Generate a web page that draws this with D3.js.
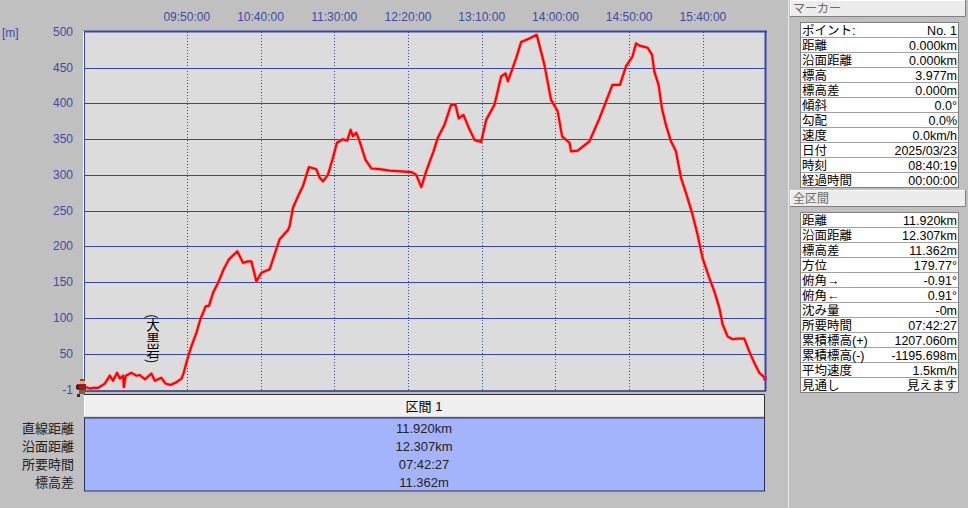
<!DOCTYPE html>
<html lang='ja'>
<head>
<meta charset='utf-8'>
<title>標高グラフ</title>
<script src='https://cdnjs.cloudflare.com/ajax/libs/d3/7.8.5/d3.min.js'></script>
<style>
body {
   margin:0;
   overflow:hidden;
   background:#c0c0c0;
}
text {
   font-family:'Liberation Sans', 'Noto Sans CJK JP', sans-serif;
}
</style>
</head>
<body>
<script>
// elapsed minutes from 08:40:19 and elevation [m]
var elapsedMin = [0, 3.9, 6.5, 9.6, 14.1, 17.5, 19.7, 22.4, 24.3, 26.5, 27.0, 28.3, 32.2, 35.6, 37.8, 41.4, 45.7, 48.0, 52.5, 55.3,
   58.6, 62.7, 66.1, 67.6, 69.8, 72.8, 76.2, 78.9, 82.5, 84.8, 87.5, 90.9, 94.7, 98.3, 104.0, 107.8, 111.2, 113.5, 116.9, 120.3,
   125.9, 130.4, 132.7, 138.3, 139.4, 141.7, 145.1, 148.4, 152.5, 157.5, 159.8, 162.0, 165.4, 168.8, 171.5, 175.5, 178.5, 180.8, 182.3, 184.6,
   186.9, 190.9, 194.8, 200.4, 207.2, 215.1, 221.9, 225.3, 228.7, 232.0, 237.0, 239.9, 244.4, 248.9, 251.9, 254.1, 257.3, 260.9, 264.8, 269.3,
   272.7, 278.3, 282.9, 285.8, 287.4, 293.0, 296.4, 302.0, 307.0, 312.2, 316.7, 321.2, 324.2, 329.2, 330.3, 334.8, 342.7, 349.5, 354.0, 358.3,
   363.4, 367.5, 372.0, 374.3, 376.6, 382.2, 385.2, 386.7, 389.6, 391.9, 394.6, 398.0, 401.4, 404.8, 408.6, 412.7, 416.1, 419.4, 424.0, 427.4,
   430.8, 433.0, 436.4, 439.8, 443.2, 447.7, 451.1, 454.5, 457.9, 461.2, 462.45];
var elevation = [4, 1, 2, 2, 8, 19, 12, 23, 15, 19, 3, 19, 23, 19, 20, 14, 22, 12, 16, 8,
   6, 10, 15, 23, 40, 60, 79, 98, 116, 117, 135, 149, 168, 182, 193, 177, 179, 179, 151, 163,
   168, 196, 210, 223, 228, 254, 270, 284, 311, 308, 296, 291, 300, 324, 345, 350, 348, 363, 354, 359,
   347, 321, 309, 308, 306, 305, 304, 300, 283, 305, 333, 352, 370, 398, 398, 379, 384, 366, 349, 346,
   377, 398, 438, 442, 431, 463, 486, 491, 496, 454, 405, 389, 354, 345, 333, 334, 347, 379, 403, 426,
   426, 452, 466, 484, 481, 478, 468, 445, 426, 393, 370, 347, 333, 296, 272, 244, 216, 184, 156, 137,
   114, 91, 74, 70, 71, 71, 53, 37, 23, 17, 15.3];

var timeTicks = ['09:50:00', '10:40:00', '11:30:00', '12:20:00', '13:10:00', '14:00:00', '14:50:00', '15:40:00'];
var elevTicks = [500, 450, 400, 350, 300, 250, 200, 150, 100, 50, -1];

var landmark = '(大黒岩)';

var rowLabels = ['直線距離', '沿面距離', '所要時間', '標高差'];
var sectionValues = ['11.920km', '12.307km', '07:42:27', '11.362m'];

var markerKeys = ['ポイント:', '距離', '沿面距離', '標高', '標高差', '傾斜', '勾配', '速度', '日付', '時刻', '経過時間'];
var markerVals = ['No. 1', '0.000km', '0.000km', '3.977m', '0.000m', '0.0°', '0.0%', '0.0km/h', '2025/03/23', '08:40:19', '00:00:00'];
var totalKeys = ['距離', '沿面距離', '標高差', '方位', '俯角→', '俯角←', '沈み量', '所要時間', '累積標高(+)', '累積標高(-)', '平均速度', '見通し'];
var totalVals = ['11.920km', '12.307km', '11.362m', '179.77°', '-0.91°', '0.91°', '-0m', '07:42:27', '1207.060m', '-1195.698m', '1.5km/h', '見えます'];

var startTime = new Date(2025, 2, 23, 8, 40, 19);
var endTime = new Date(startTime.getTime() + (7 * 3600 + 42 * 60 + 27) * 1000);
var parseClock = d3.timeParse('%H:%M:%S');
function onDay(s) {
   var t = parseClock(s);
   return new Date(2025, 2, 23, t.getHours(), t.getMinutes(), t.getSeconds());
}

var plotL = 84, plotR = 766, plotT = 32, plotB = 390;
var blue = '#3545ad';
var labelBlue = '#3d4ba6';

var x = d3.scaleTime().domain([startTime, endTime]).range([plotL, plotR]);
var y = d3.scaleLinear().domain([-1, 500]).range([plotB, plotT]);

var svg = d3.select('body').append('svg')
            .attr('width', 968).attr('height', 508);

// plot background
svg.append('rect')
   .attr('x', plotL).attr('y', plotT - 1).attr('width', plotR - plotL).attr('height', plotB - plotT + 2)
   .style('fill', '#dcdcdc');

// horizontal grid
svg.append('g').selectAll('line')
   .data(elevTicks.filter(function(d){return d > 0 && d < 500;}))
   .enter().append('line')
   .attr('x1', plotL).attr('x2', plotR)
   .attr('y1', function(d){return Math.round(y(d)) + 0.5;})
   .attr('y2', function(d){return Math.round(y(d)) + 0.5;})
   .style('stroke', blue).style('stroke-width', 1.2);

// vertical dotted grid
svg.append('g').selectAll('line')
   .data(timeTicks)
   .enter().append('line')
   .attr('x1', function(d){return Math.round(x(onDay(d))) + 0.5;})
   .attr('x2', function(d){return Math.round(x(onDay(d))) + 0.5;})
   .attr('y1', plotT).attr('y2', plotB)
   .style('stroke', blue).style('stroke-width', 1).style('stroke-dasharray', '1,2');

// frame
svg.append('line').attr('x1', plotL - 1).attr('x2', plotR + 1).attr('y1', plotT - 0.5).attr('y2', plotT - 0.5)
   .style('stroke', blue).style('stroke-width', 2);
svg.append('line').attr('x1', plotL - 0.5).attr('x2', plotL - 0.5).attr('y1', plotT - 1).attr('y2', plotB + 1)
   .style('stroke', '#ffffff').style('stroke-width', 1);
svg.append('line').attr('x1', plotL + 0.5).attr('x2', plotL + 0.5).attr('y1', plotT - 1).attr('y2', plotB + 1)
   .style('stroke', blue).style('stroke-width', 1);
svg.append('line').attr('x1', plotR - 0.5).attr('x2', plotR - 0.5).attr('y1', plotT - 1).attr('y2', plotB + 1)
   .style('stroke', blue).style('stroke-width', 2);
svg.append('line').attr('x1', plotL).attr('x2', plotR).attr('y1', plotB + 1).attr('y2', plotB + 1)
   .style('stroke', '#2a3580').style('stroke-width', 1.5);

// axis labels
svg.append('g').selectAll('text')
   .data(elevTicks)
   .enter().append('text')
   .attr('x', 73).attr('y', function(d){return y(d) + 4;})
   .attr('text-anchor', 'end')
   .style('font-size', '12px').style('fill', labelBlue)
   .text(function(d){return d;});
svg.append('text').attr('x', 2).attr('y', 37)
   .style('font-size', '12px').style('fill', labelBlue).text('[m]');
svg.append('g').selectAll('text')
   .data(timeTicks)
   .enter().append('text')
   .attr('x', function(d){return x(onDay(d));}).attr('y', 21)
   .attr('text-anchor', 'middle')
   .style('font-size', '12px').style('fill', labelBlue)
   .text(function(d){return d;});

// profile
var profile = elapsedMin.map(function(m, i){return {t: new Date(startTime.getTime() + m * 60000), e: elevation[i]};});
var line = d3.line()
   .x(function(d){return x(d.t);})
   .y(function(d){return y(d.e);});
svg.append('path').datum(profile).attr('d', line)
   .style('fill', 'none').style('stroke', '#ff8080').style('stroke-width', 4).style('opacity', 0.45)
   .style('stroke-linejoin', 'round');
svg.append('path').datum(profile).attr('d', line)
   .style('fill', 'none').style('stroke', '#ff0000').style('stroke-width', 2.2)
   .style('stroke-linejoin', 'round');

// end point
var last = profile[profile.length - 1];
svg.append('rect').attr('x', x(last.t) - 3).attr('y', y(last.e) - 2).attr('width', 4).attr('height', 4)
   .style('fill', '#c81d6e');

// landmark label, vertical writing
svg.append('text')
   .attr('x', 153).attr('y', 314)
   .style('writing-mode', 'vertical-rl')
   .style('font-family', "'Noto Sans CJK JP', sans-serif")
   .style('font-size', '13.5px').style('fill', '#000')
   .text(landmark);

// hiker marker at start
var hx = 76, hy = 379;
var hiker = svg.append('g').attr('transform', 'translate(' + hx + ',' + hy + ')');
hiker.append('rect').attr('x', 4).attr('y', 0).attr('width', 5).attr('height', 2).style('fill', '#8a4a20');
hiker.append('rect').attr('x', 4).attr('y', 2).attr('width', 5).attr('height', 3).style('fill', '#e8a878');
hiker.append('rect').attr('x', 1).attr('y', 5).attr('width', 9).attr('height', 6).style('fill', '#9c1c24');
hiker.append('rect').attr('x', 0).attr('y', 6).attr('width', 3).attr('height', 4).style('fill', '#6a1016');
hiker.append('rect').attr('x', 3).attr('y', 11).attr('width', 6).attr('height', 4).style('fill', '#7a6040');
hiker.append('rect').attr('x', 1).attr('y', 15).attr('width', 3).attr('height', 3).style('fill', '#3a2a1a');
hiker.append('rect').attr('x', 8).attr('y', 15).attr('width', 3).attr('height', 3).style('fill', '#3a2a1a');

// section table below the plot
var tabL = 84, tabR = 764, headT = 394, headB = 418, bodyB = 491;
svg.append('rect').attr('x', tabL).attr('y', headT).attr('width', tabR - tabL).attr('height', headB - headT)
   .style('fill', '#f0f0f0');
svg.append('path').attr('d', 'M' + (tabL + 0.5) + ',' + (headB) + 'V' + (headT + 0.5) + 'H' + tabR)
   .style('fill', 'none').style('stroke', '#ffffff').style('stroke-width', 1);
svg.append('path').attr('d', 'M' + tabL + ',' + (headT + 0.5) + 'H' + (tabR + 0.5) + 'V' + headB)
   .style('fill', 'none').style('stroke', '#303030').style('stroke-width', 1);
svg.append('line').attr('x1', tabL).attr('x2', tabR).attr('y1', headB - 0.5).attr('y2', headB - 0.5)
   .style('stroke', '#808080').style('stroke-width', 1.5);
svg.append('text').attr('x', (tabL + tabR) / 2).attr('y', 411)
   .attr('text-anchor', 'middle').style('font-size', '13px').style('fill', '#000')
   .text('区間 1');
svg.append('rect').attr('x', tabL + 0.5).attr('y', headB).attr('width', tabR - tabL).attr('height', bodyB - headB)
   .style('fill', '#a4b4fc').style('stroke', '#2a2f5a').style('stroke-width', 1);

var rowY = d3.scalePoint().domain(rowLabels).range([428, 482]);
svg.append('g').selectAll('text')
   .data(rowLabels)
   .enter().append('text')
   .attr('x', 74).attr('y', function(d){return rowY(d) + 5;})
   .attr('text-anchor', 'end').style('font-size', '13px').style('fill', '#222')
   .text(function(d){return d;});
svg.append('g').selectAll('text')
   .data(sectionValues)
   .enter().append('text')
   .attr('x', (tabL + tabR) / 2).attr('y', function(d, i){return rowY(rowLabels[i]) + 5;})
   .attr('text-anchor', 'middle').style('font-size', '13px').style('fill', '#222')
   .text(function(d){return d;});

// right side panel
svg.append('line').attr('x1', 788.5).attr('x2', 788.5).attr('y1', 0).attr('y2', 508)
   .style('stroke', '#e8e8e8').style('stroke-width', 1);

function panelHeader(top, label) {
   svg.append('rect').attr('x', 790).attr('y', top).attr('width', 176).attr('height', 17)
      .style('fill', '#ececec');
   svg.append('path').attr('d', 'M790.5,' + (top + 17) + 'V' + (top + 0.5) + 'H966')
      .style('fill', 'none').style('stroke', '#ffffff');
   svg.append('path').attr('d', 'M790,' + (top + 16.5) + 'H965.5V' + top)
      .style('fill', 'none').style('stroke', '#808080');
   svg.append('text').attr('x', 793).attr('y', top + 13)
      .style('font-size', '12px').style('fill', '#6a6a6a').text(label);
}

function panelTable(top, keys, vals) {
   var rowH = 15;
   var g = svg.append('g');
   g.append('rect').attr('x', 800.5).attr('y', top + 0.5).attr('width', 158).attr('height', keys.length * rowH)
      .style('fill', '#ffffff').style('stroke', '#808080');
   g.selectAll('line.sep')
      .data(keys.slice(1))
      .enter().append('line')
      .attr('class', 'sep')
      .attr('x1', 801).attr('x2', 958)
      .attr('y1', function(d, i){return top + (i + 1) * rowH + 0.5;})
      .attr('y2', function(d, i){return top + (i + 1) * rowH + 0.5;})
      .style('stroke', '#a0a0a0');
   g.selectAll('text.key')
      .data(keys)
      .enter().append('text')
      .attr('class', 'key')
      .attr('x', 802).attr('y', function(d, i){return top + i * rowH + 12.5;})
      .style('font-size', '12.5px').style('fill', '#000')
      .text(function(d){return d;});
   g.selectAll('text.val')
      .data(vals)
      .enter().append('text')
      .attr('class', 'val')
      .attr('x', 957).attr('y', function(d, i){return top + i * rowH + 12.5;})
      .attr('text-anchor', 'end')
      .style('font-size', '12.5px').style('fill', '#000')
      .text(function(d){return d;});
}

panelHeader(0, 'マーカー');
panelTable(22, markerKeys, markerVals);
panelHeader(190, '全区間');
panelTable(212, totalKeys, totalVals);
</script>
</body>
</html>
